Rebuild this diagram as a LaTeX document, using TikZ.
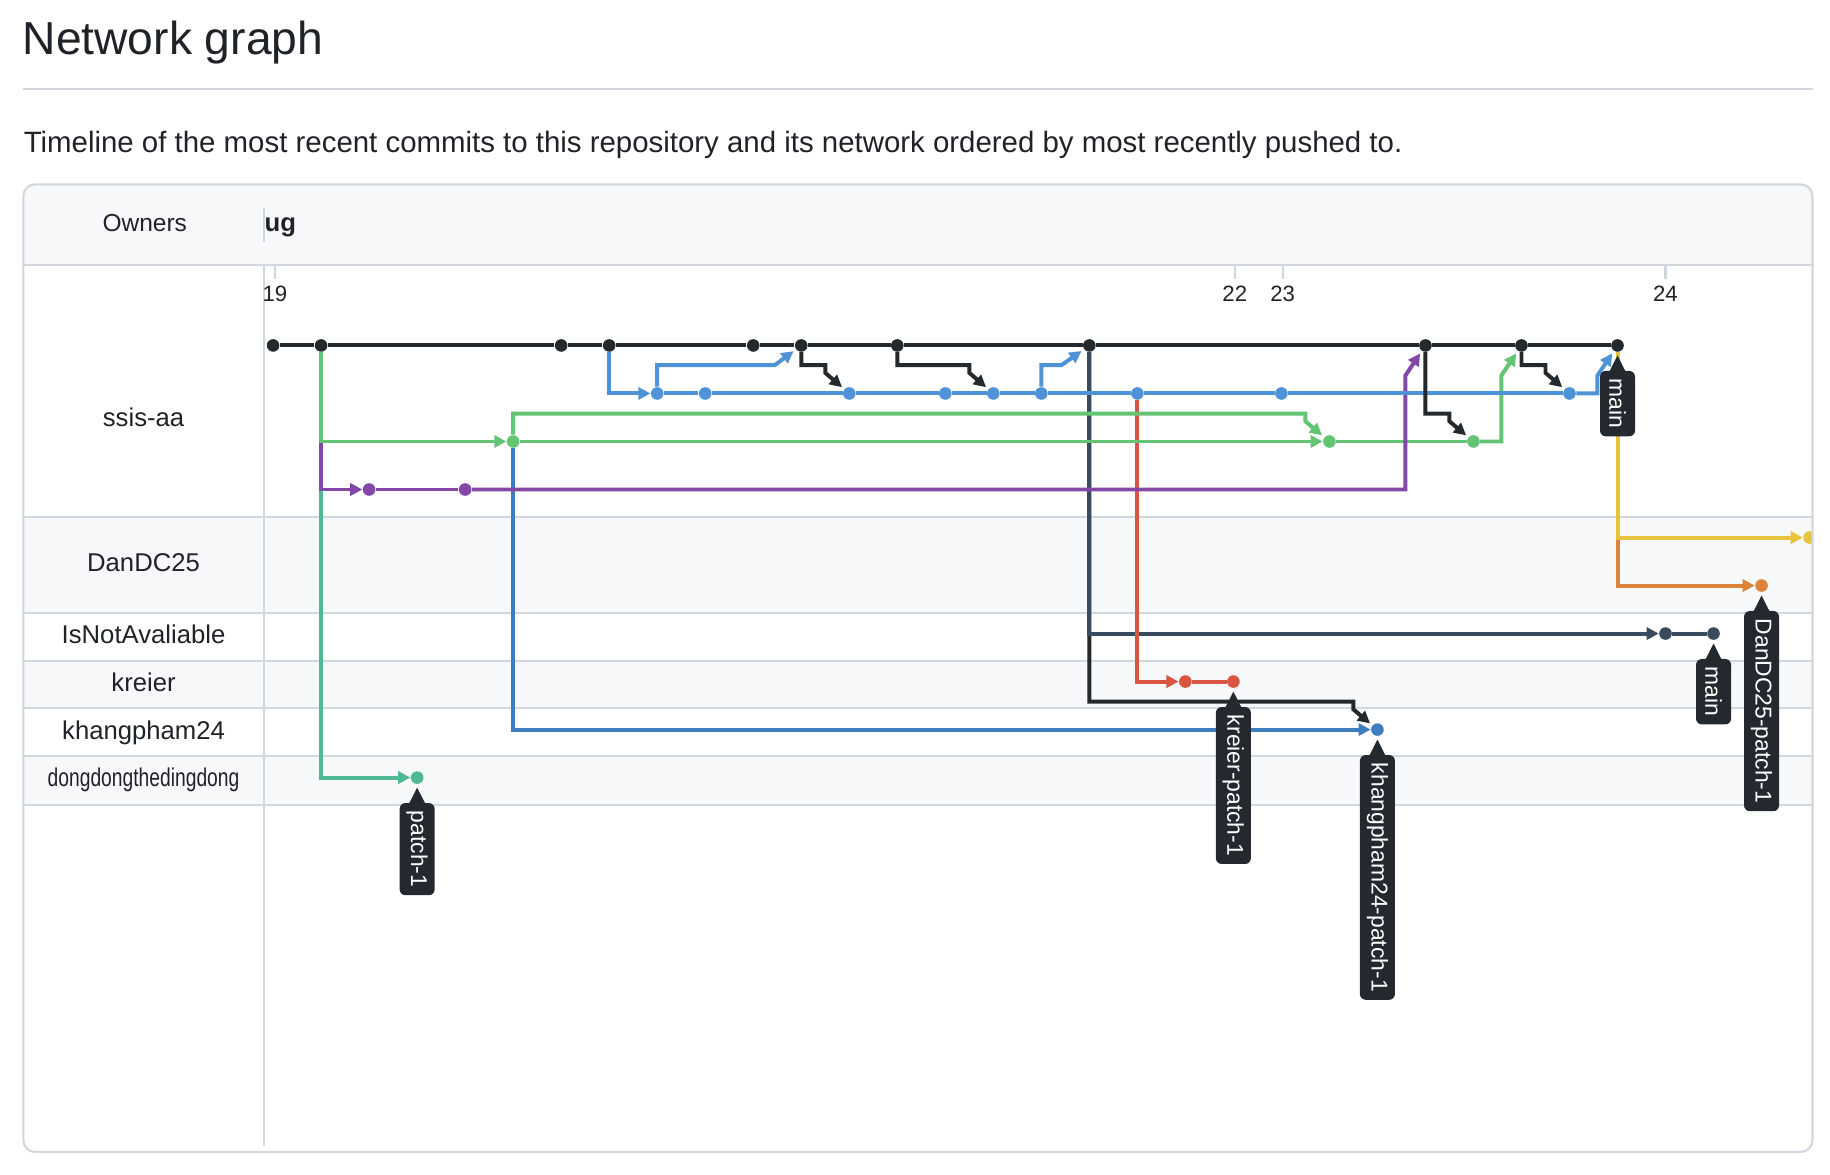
\documentclass[tikz,border=0pt]{standalone}
\usepackage{fontspec}
\setmainfont{Liberation Sans}
\usetikzlibrary{arrows.meta,calc}
\definecolor{GhBlack}{HTML}{24292E}
\definecolor{GhBlue}{HTML}{4E93D6}
\definecolor{GhGreen}{HTML}{63C573}
\definecolor{GhPurple}{HTML}{8447A6}
\definecolor{GhNavy}{HTML}{394B5E}
\definecolor{GhRed}{HTML}{DA5442}
\definecolor{GhSteel}{HTML}{3F7EBE}
\definecolor{GhTeal}{HTML}{50B894}
\definecolor{GhYellow}{HTML}{E8C33D}
\definecolor{GhOrange}{HTML}{DB843A}
\definecolor{GhGrid}{HTML}{D0D7DE}
\definecolor{GhHead}{HTML}{F6F8FA}
\definecolor{GhText}{HTML}{1F2328}
\definecolor{GhTag}{HTML}{24292F}

\begin{document}
\begin{tikzpicture}[x=0.5pt,y=-0.5pt,
  commit/.style={circle,fill=#1,inner sep=0pt,minimum size=5.4pt},
  ln/.style={draw=#1,line width=1.7pt},
  arr/.style={-{Triangle[length=5.2pt,width=5.2pt]}},
  dg/.style={arr,shorten >=1.2pt},
  owner/.style={anchor=mid,font=\fontsize{11}{13}\selectfont,text=GhText},
  day/.style={anchor=mid,font=\fontsize{9.5}{11}\selectfont,text=GhText},
  rule/.style={GhGrid,line width=0.9pt},
  brtag/.style={fill=GhTag,text=white,rounded corners=2.5pt,rotate=-90,anchor=west,inner xsep=3.4pt,inner ysep=0pt,minimum height=15pt,font=\fontsize{9.8}{11}\selectfont}]
  \path[use as bounding box,fill=white] (0,0) rectangle (1568,1006);
  \node[anchor=base west,inner sep=0pt,font=\fontsize{19.8}{23}\selectfont,text=GhText] (title) at (19,47) {Network graph};
  \draw[rule] (20,76) -- (1553,76);
  \node[anchor=base west,inner sep=0pt,font=\fontsize{12.6}{15}\selectfont,text=GhText] (lead) at (20,131) {Timeline of the most recent commits to this repository and its network ordered by most recently pushed to.};

  \begin{scope}
    \clip[rounded corners=5pt] (20,158) rectangle (1553,987);
    % bands and grid
    \fill[GhHead] (20,158) rectangle (1553,227);
    \foreach \ya/\yb in {443/525,566/607,648/690} \fill[GhHead] (20,\ya) rectangle (1553,\yb);
    \foreach \yy in {227,443,525,566,607,648,690} \draw[rule] (20,\yy) -- (1553,\yy);
    \draw[rule] (226,178) -- (226,207) (226,227) -- (226,982);
    \foreach \xx/\dd in {235.5/19,1058/22,1099/23,1427/24} {
      \draw[rule] (\xx,228) -- (\xx,239);
      \node[day] (d\dd) at (\xx,253) {\dd};
    }
    % owners
    \node[owner,font=\fontsize{10.5}{12}\selectfont] (own) at (124,193) {Owners};
    \foreach \yy/\nm/\id in {360/ssis-aa/1,484/DanDC25/2,546/IsNotAvaliable/3,587/kreier/4,628/khangpham24/5}
      \node[owner] (o\id) at (123,\yy) {\nm};
    \node[owner] (o6) at (123,669) {\scalebox{0.75}[1]{dongdongthedingdong}};
    \begin{scope}
      \clip (227,160) rectangle (400,225);
      \node[anchor=mid east,inner sep=0pt,font=\fontsize{11}{13}\selectfont\bfseries,text=GhText] (month) at (254,193) {Aug};
    \end{scope}

    \begin{scope}[shift={(234,296)},x=20.57pt,y=-20.57pt]
      % commits
      \foreach \k in {0,1,6,7,10,11,13,17,24,26,28} \node[commit=GhBlack] (ma\k) at (\k,0) {};
      \foreach \k in {8,9,12,14,15,16,18,21,27} \node[commit=GhBlue] (bl\k) at (\k,1) {};
      \foreach \k in {5,22,25} \node[commit=GhGreen] (gr\k) at (\k,2) {};
      \foreach \k in {2,4} \node[commit=GhPurple] (pu\k) at (\k,3) {};
      \node[commit=GhYellow] (ye32) at (32,4) {};
      \node[commit=GhOrange] (or31) at (31,5) {};
      \foreach \k in {29,30} \node[commit=GhNavy] (na\k) at (\k,6) {};
      \foreach \k in {19,20} \node[commit=GhRed] (kr\k) at (\k,7) {};
      \node[commit=GhSteel] (kh23) at (23,8) {};
      \node[commit=GhTeal] (dd3) at (3,9) {};

      % branches out of the first commits
      \draw[ln=GhTeal,arr] (ma1) |- (dd3);
      \draw[ln=GhPurple,arr] (ma1) |- (pu2);
      \draw[ln=GhGreen,arr] (ma1) |- (gr5);
      \draw[ln=GhSteel,arr] (gr5) |- (kh23);
      \draw[ln=GhBlack,dg] (ma17) |- (22.5,7.42) -- (22.5,7.58) -- (kh23);
      \draw[ln=GhNavy,arr] (ma17) |- (na29);
      \draw[ln=GhNavy] (na29) -- (na30);
      \draw[ln=GhRed,arr] (bl18) |- (kr19);
      \draw[ln=GhRed] (kr19) -- (kr20);
      \draw[ln=GhOrange,arr] (ma28) |- (or31);
      \draw[ln=GhYellow,arr] (ma28) |- (ye32);

      % green line
      \draw[ln=GhGreen,dg] (gr5) |- (21.5,1.42) -- (21.5,1.58) -- (gr22);
      \draw[ln=GhGreen,arr] (gr5) -- (gr22);
      \draw[ln=GhGreen] (gr22) -- (gr25);
      \draw[ln=GhGreen,dg] (gr25) -- (25.58,2) -- (25.58,0.63) -- (ma26);

      % purple line
      \draw[ln=GhPurple] (pu2) -- (pu4);
      \draw[ln=GhPurple,dg] (pu4) -- (23.58,3) -- (23.58,0.63) -- (ma24);

      % blue line
      \draw[ln=GhBlue,arr] (ma7) |- (bl8);
      \draw[ln=GhBlue] (bl8) -- (bl9) -- (bl12) -- (bl14) -- (bl15) -- (bl16) -- (bl18) -- (bl21) -- (bl27);
      \draw[ln=GhBlue,dg] (bl8) |- (10.45,0.41) -- (ma11);
      \draw[ln=GhBlue,dg] (bl16) |- (16.42,0.41) -- (ma17);
      \draw[ln=GhBlue,dg] (bl27) -- (27.58,1) -- (27.58,0.63) -- (ma28);

      % main line and its forks
      \draw[ln=GhBlack] (ma0) -- (ma1) -- (ma6) -- (ma7) -- (ma10) -- (ma11) -- (ma13) -- (ma17) -- (ma24) -- (ma26) -- (ma28);
      \draw[ln=GhBlack,dg] (ma11) |- (11.5,0.41) -- (11.5,0.57) -- (bl12);
      \draw[ln=GhBlack,dg] (ma13) |- (14.5,0.41) -- (14.5,0.57) -- (bl15);
      \draw[ln=GhBlack,dg] (ma24) |- (24.5,1.42) -- (24.5,1.58) -- (gr25);
      \draw[ln=GhBlack,dg] (ma26) |- (26.5,0.41) -- (26.5,0.57) -- (bl27);

      % branch tags
      \foreach \src/\lbl/\nme in {ma28/main/tma,na30/main/tna,or31/DanDC25-patch-1/tor,kr20/kreier-patch-1/tkr,kh23/khangpham24-patch-1/tkh,dd3/patch-1/tdd} {
        \node[brtag] (\nme) at ($(\src)+(0,-10.7pt)$) {\lbl};
        \fill[GhTag] ($(\nme.west)+(-3.5pt,-0.5pt)$) -- ($(\nme.west)+(0,6.4pt)$) -- ($(\nme.west)+(3.5pt,-0.5pt)$) -- cycle;
      }
    \end{scope}
  \end{scope}
  \draw[rule,rounded corners=5pt] (20,158) rectangle (1553,987);
\end{tikzpicture}
\end{document}
